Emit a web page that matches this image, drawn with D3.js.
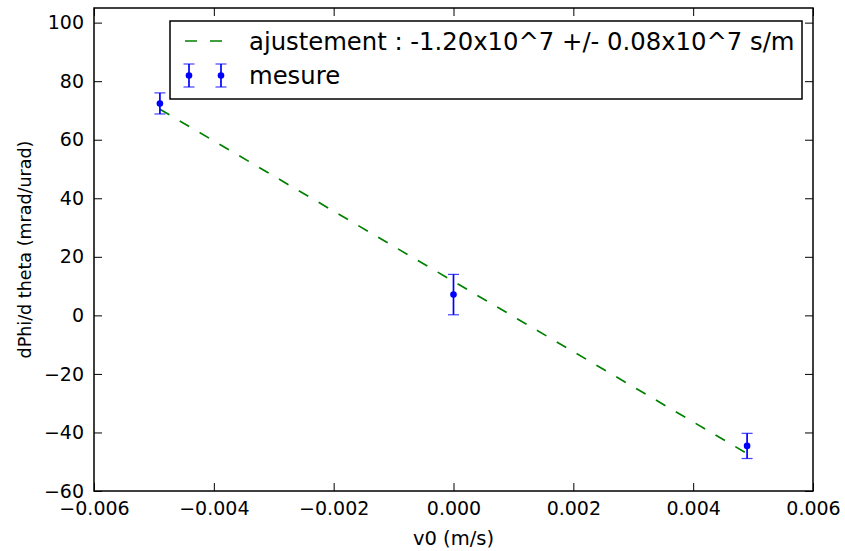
<!DOCTYPE html>
<html><head><meta charset="utf-8">
<script src="https://cdn.jsdelivr.net/npm/d3@7/dist/d3.min.js"></script>
<style>body{margin:0;background:#fff}svg{display:block}text{font-family:"DejaVu Sans",sans-serif}</style>
</head><body><svg id="c" width="845" height="551"></svg>
<script>
const xVals = [-0.0049, 0.0, 0.0049];
const yVals = [72.4, 7.1, -44.6];
const yErr = [3.6, 6.9, 4.3];
const fitX = [-0.0049, 0.0049];
const fitY = [70.4, -47.2];
const xTicks = [-0.006, -0.004, -0.002, 0, 0.002, 0.004, 0.006];
const yTicks = [-60, -40, -20, 0, 20, 40, 60, 80, 100];
const fitLabel = "ajustement : -1.20x10^7 +/- 0.08x10^7 s/m";
const dataLabel = "mesure";

const svg = d3.select("#c");
const L = 94, R = 813, T = 8, B = 491;
const x = d3.scaleLinear().domain([-0.006, 0.006]).range([L, R]);
const y = d3.scaleLinear().domain([-60, 105]).range([B, T]);
const fmtX = d => d === 0 ? "0.000" : d3.format(".3f")(d).replace("-", "\u2212");
const fmtY = d => String(d).replace("-", "\u2212");

const tl = 8;
const gx = svg.append("g").attr("transform", `translate(0,${B})`)
  .call(d3.axisBottom(x).tickValues(xTicks).tickSizeInner(-tl).tickSizeOuter(0).tickPadding(10.5).tickFormat(fmtX));
const gxt = svg.append("g").attr("transform", `translate(0,${T})`)
  .call(d3.axisTop(x).tickValues(xTicks).tickSizeInner(-tl).tickSizeOuter(0).tickFormat(""));
const gy = svg.append("g").attr("transform", `translate(${L},0)`)
  .call(d3.axisLeft(y).tickValues(yTicks).tickSizeInner(-tl).tickSizeOuter(0).tickPadding(10).tickFormat(fmtY));
const gyr = svg.append("g").attr("transform", `translate(${R},0)`)
  .call(d3.axisRight(y).tickValues(yTicks).tickSizeInner(-tl).tickSizeOuter(0).tickFormat(""));
[gx, gxt, gy, gyr].forEach(g => {
  g.select(".domain").remove();
  g.selectAll(".tick line").attr("stroke", "#000").attr("stroke-width", 1);
  g.selectAll("text").attr("font-size", 19).attr("fill", "#000");
});
gx.selectAll("text").attr("dy", "0.71em");

// fit line
svg.append("path")
  .datum(fitX.map((v, i) => [v, fitY[i]]))
  .attr("d", d3.line().x(d => x(d[0])).y(d => y(d[1])))
  .attr("fill", "none").attr("stroke", "#008000").attr("stroke-width", 1.7)
  .attr("stroke-dasharray", "11,12");

// error bars
const pts = xVals.map((v, i) => ({x: v, y: yVals[i], e: yErr[i]}));
const eb = svg.append("g").selectAll("g").data(pts).join("g");
eb.append("line").attr("x1", d => x(d.x)).attr("x2", d => x(d.x))
  .attr("y1", d => y(d.y - d.e)).attr("y2", d => y(d.y + d.e))
  .attr("stroke", "#0000ff").attr("stroke-width", 1.7);
[-1, 1].forEach(s => {
  eb.append("line").attr("x1", d => x(d.x) - 5.5).attr("x2", d => x(d.x) + 5.5)
    .attr("y1", d => y(d.y + s * d.e)).attr("y2", d => y(d.y + s * d.e))
    .attr("stroke", "#0000ff").attr("stroke-opacity", 0.75).attr("stroke-width", 1.2);
});
eb.append("circle").attr("cx", d => x(d.x)).attr("cy", d => y(d.y)).attr("r", 3.3).attr("fill", "#0000ff");

// frame
svg.append("rect").attr("x", L).attr("y", T).attr("width", R - L).attr("height", B - T)
  .attr("fill", "none").attr("stroke", "#000").attr("stroke-width", 1.5);

// legend
const lg = svg.append("g");
lg.append("rect").attr("x", 170).attr("y", 21).attr("width", 632).attr("height", 78)
  .attr("fill", "#fff").attr("stroke", "#000").attr("stroke-width", 1.5);
lg.append("line").attr("x1", 185).attr("x2", 222).attr("y1", 41).attr("y2", 41)
  .attr("stroke", "#008000").attr("stroke-width", 1.7).attr("stroke-dasharray", "12,13");
lg.append("text").attr("x", 249).attr("y", 41).attr("dy", "0.35em").attr("font-size", 24.3).text(fitLabel);
[189, 221].forEach(cx => {
  lg.append("line").attr("x1", cx).attr("x2", cx).attr("y1", 64).attr("y2", 87).attr("stroke", "#0000ff").attr("stroke-width", 1.7);
  [64, 87].forEach(cy => lg.append("line").attr("x1", cx - 5.5).attr("x2", cx + 5.5).attr("y1", cy).attr("y2", cy)
    .attr("stroke", "#0000ff").attr("stroke-opacity", 0.75).attr("stroke-width", 1.2));
  lg.append("circle").attr("cx", cx).attr("cy", 75.5).attr("r", 3.3).attr("fill", "#0000ff");
});
lg.append("text").attr("x", 249).attr("y", 75.5).attr("dy", "0.35em").attr("font-size", 24.3).text(dataLabel);

// axis labels
svg.append("text").attr("x", (L + R) / 2).attr("y", 538).attr("dy", "0.35em").attr("text-anchor", "middle")
  .attr("font-size", 19.5).text("v0 (m/s)");
svg.append("text").attr("transform", `translate(25,${(T + B) / 2}) rotate(-90)`).attr("dy", "0.35em")
  .attr("text-anchor", "middle").attr("font-size", 17.5).text("dPhi/d theta (mrad/urad)");
</script></body></html>
